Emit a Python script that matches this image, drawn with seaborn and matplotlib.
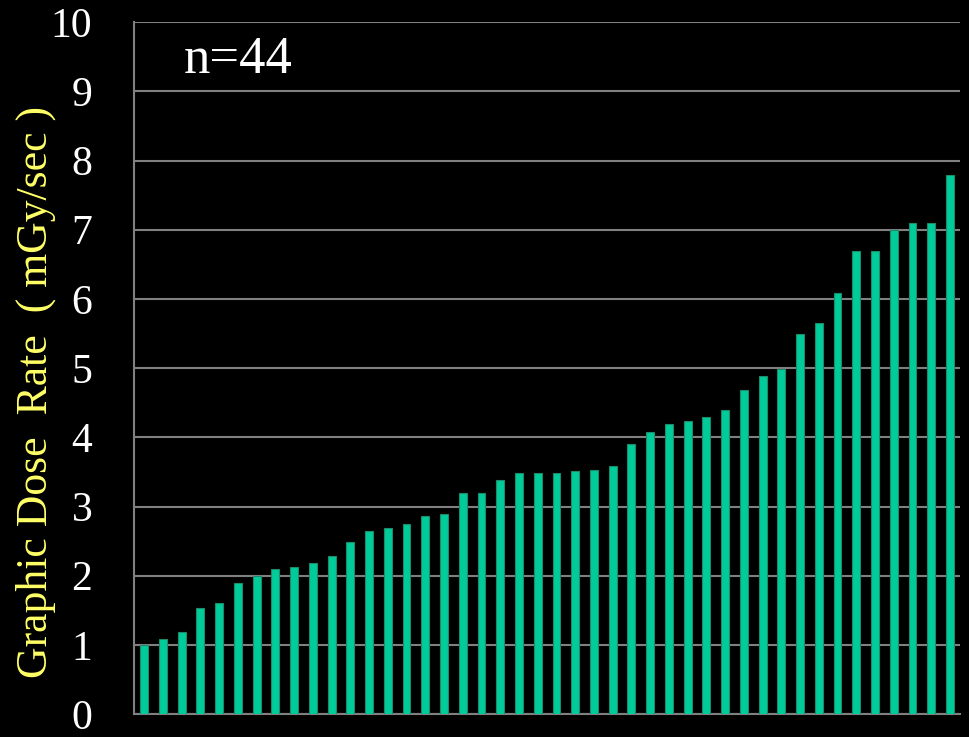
import matplotlib
matplotlib.use("Agg")
import matplotlib.pyplot as plt
import seaborn as sns
import pandas as pd

# graphic dose rate per case, sorted ascending (mGy/sec)
cases = [str(i) for i in range(1, 45)]
dose_rate = [1.0, 1.09, 1.19, 1.54, 1.6, 1.89, 2.0, 2.1, 2.13, 2.19, 2.29,
             2.49, 2.65, 2.69, 2.75, 2.86, 2.89, 3.19, 3.19, 3.38, 3.49,
             3.49, 3.49, 3.51, 3.53, 3.59, 3.9, 4.07, 4.19, 4.24, 4.29,
             4.39, 4.69, 4.89, 4.99, 5.49, 5.65, 6.09, 6.69, 6.69, 6.99,
             7.09, 7.09, 7.79]
y_ticks = [0, 1, 2, 3, 4, 5, 6, 7, 8, 9, 10]

df = pd.DataFrame({"case": cases, "rate": dose_rate})

sns.set_style("dark")
plt.rcParams["font.family"] = ["Liberation Serif", "DejaVu Serif"]

fig = plt.figure(figsize=(9.7, 7.37), dpi=100, facecolor="black")
ax = fig.add_axes([0.138, 0.031, 0.852, 0.939])
ax.set_facecolor("black")

sns.barplot(data=df, x="case", y="rate", color="#00CC99", saturation=1,
            width=0.42, edgecolor="#1f8a6a", linewidth=0.8, ax=ax, zorder=3)

ax.set_ylim(0, 10)
ax.set_xlim(-0.55, 43.55)
ax.set_yticks(y_ticks)
ax.set_yticklabels([str(t) for t in y_ticks], color="white", fontsize=30)
ax.tick_params(axis="y", length=10, width=1.5, color="#808080", pad=20)
ax.tick_params(axis="x", bottom=False, labelbottom=False)
ax.set_xlabel("")
ax.grid(axis="y", color="#808080", linewidth=1.5, zorder=0)
ax.grid(axis="x", visible=False)
ax.set_axisbelow(True)

for side in ["top", "right"]:
    ax.spines[side].set_visible(False)
for side in ["left", "bottom"]:
    ax.spines[side].set_color("#808080")
    ax.spines[side].set_linewidth(1.5)

ax.set_ylabel("Graphic Dose  Rate  ( mGy/sec )", color="#FFFF66", fontsize=31.5)
ax.yaxis.set_label_coords(-0.094, 0.465)

ax.text(0.06, 0.945, "n=44", transform=ax.transAxes, color="white",
        fontsize=38, ha="left", va="center")

fig.savefig("out.png", facecolor="black")
